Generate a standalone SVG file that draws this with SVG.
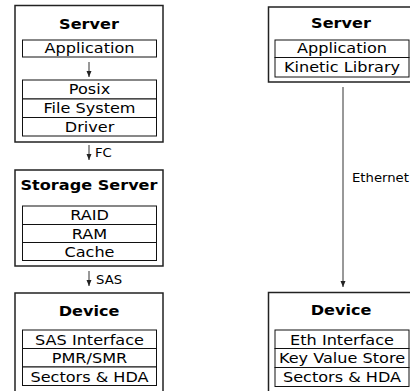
<svg xmlns="http://www.w3.org/2000/svg" width="410" height="391" viewBox="0 0 410 391">
  <style>
    .outer { fill: #ffffff; stroke: #222222; stroke-width: 1.5; }
    .cell { fill: #ffffff; stroke: #111111; stroke-width: 1; }
    .title { font-family: "DejaVu Sans", sans-serif; font-weight: bold; font-size: 14px; text-anchor: middle; fill: #000000; }
    .item { font-family: "DejaVu Sans", sans-serif; font-size: 14px; text-anchor: middle; fill: #000000; }
    .lbl { font-family: "DejaVu Sans", sans-serif; font-size: 11.5px; fill: #000000; }
    .conn { fill: none; stroke: #333333; stroke-width: 1; }
  </style>
  <defs>
    <marker id="head" viewBox="0 0 6 6" refX="6" refY="3" markerWidth="6" markerHeight="6" markerUnits="userSpaceOnUse" orient="auto">
      <path d="M0,0.5 L6,3 L0,5.5 Z" fill="#222222"/>
    </marker>
  </defs>

  <rect width="410" height="391" fill="#ffffff"/>

  <!-- Left stack: classic storage path -->
  <g id="server-left">
    <rect class="outer" x="15" y="5.5" width="148" height="136.5"/>
    <text class="title" transform="translate(89,29) scale(1.15,1)">Server</text>
    <rect class="cell" x="22.5" y="40" width="134" height="17"/>
    <text class="item" transform="translate(89.5,53) scale(1.15,1)">Application</text>
    <rect class="cell" x="22.5" y="80" width="134" height="19"/>
    <text class="item" transform="translate(89.5,94) scale(1.15,1)">Posix</text>
    <rect class="cell" x="22.5" y="99" width="134" height="18.5"/>
    <text class="item" transform="translate(89.5,113) scale(1.15,1)">File System</text>
    <rect class="cell" x="22.5" y="117.5" width="134" height="18.5"/>
    <text class="item" transform="translate(89.5,131.5) scale(1.15,1)">Driver</text>
  </g>

  <g id="storage-server">
    <rect class="outer" x="15" y="170" width="148" height="96"/>
    <text class="title" transform="translate(89,190) scale(1.15,1)">Storage Server</text>
    <rect class="cell" x="22.5" y="206" width="134" height="18.5"/>
    <text class="item" transform="translate(89.5,220) scale(1.15,1)">RAID</text>
    <rect class="cell" x="22.5" y="224.5" width="134" height="18"/>
    <text class="item" transform="translate(89.5,238.5) scale(1.15,1)">RAM</text>
    <rect class="cell" x="22.5" y="242.5" width="134" height="18"/>
    <text class="item" transform="translate(89.5,256.5) scale(1.15,1)">Cache</text>
  </g>

  <g id="device-left">
    <rect class="outer" x="15" y="293" width="148" height="110"/>
    <text class="title" transform="translate(89,316) scale(1.15,1)">Device</text>
    <rect class="cell" x="22.5" y="330" width="134" height="18.5"/>
    <text class="item" transform="translate(89.5,344.5) scale(1.15,1)">SAS Interface</text>
    <rect class="cell" x="22.5" y="348.5" width="134" height="18.5"/>
    <text class="item" transform="translate(89.5,363) scale(1.15,1)">PMR/SMR</text>
    <rect class="cell" x="22.5" y="367" width="134" height="18.5"/>
    <text class="item" transform="translate(89.5,381.5) scale(1.15,1)">Sectors &amp; HDA</text>
  </g>

  <!-- Right stack: kinetic path -->
  <g id="server-right">
    <rect class="outer" x="268.5" y="7" width="148" height="75"/>
    <text class="title" transform="translate(341,28) scale(1.15,1)">Server</text>
    <rect class="cell" x="275" y="40" width="134" height="17.5"/>
    <text class="item" transform="translate(342,53) scale(1.15,1)">Application</text>
    <rect class="cell" x="275" y="57.5" width="134" height="19.5"/>
    <text class="item" transform="translate(342,72) scale(1.15,1)">Kinetic Library</text>
  </g>

  <g id="device-right">
    <rect class="outer" x="268.5" y="292.5" width="148" height="110"/>
    <text class="title" transform="translate(341,315) scale(1.15,1)">Device</text>
    <rect class="cell" x="275" y="330" width="134" height="18.5"/>
    <text class="item" transform="translate(342,344.5) scale(1.15,1)">Eth Interface</text>
    <rect class="cell" x="275" y="348.5" width="134" height="19"/>
    <text class="item" transform="translate(342,363) scale(1.15,1)">Key Value Store</text>
    <rect class="cell" x="275" y="367.5" width="134" height="19"/>
    <text class="item" transform="translate(342,382) scale(1.15,1)">Sectors &amp; HDA</text>
  </g>

  <!-- Connectors -->
  <g id="connectors">
    <line class="conn" x1="89" y1="62" x2="89" y2="77" marker-end="url(#head)"/>
    <line class="conn" x1="89" y1="145" x2="89" y2="160" marker-end="url(#head)"/>
    <text class="lbl" transform="translate(95,157) scale(1.15,1)">FC</text>
    <line class="conn" x1="89" y1="271" x2="89" y2="286" marker-end="url(#head)"/>
    <text class="lbl" transform="translate(96,284) scale(1.15,1)">SAS</text>
    <line class="conn" x1="343" y1="87" x2="343" y2="287" marker-end="url(#head)"/>
    <text class="lbl" transform="translate(352,182) scale(1.15,1)">Ethernet</text>
  </g>
</svg>
